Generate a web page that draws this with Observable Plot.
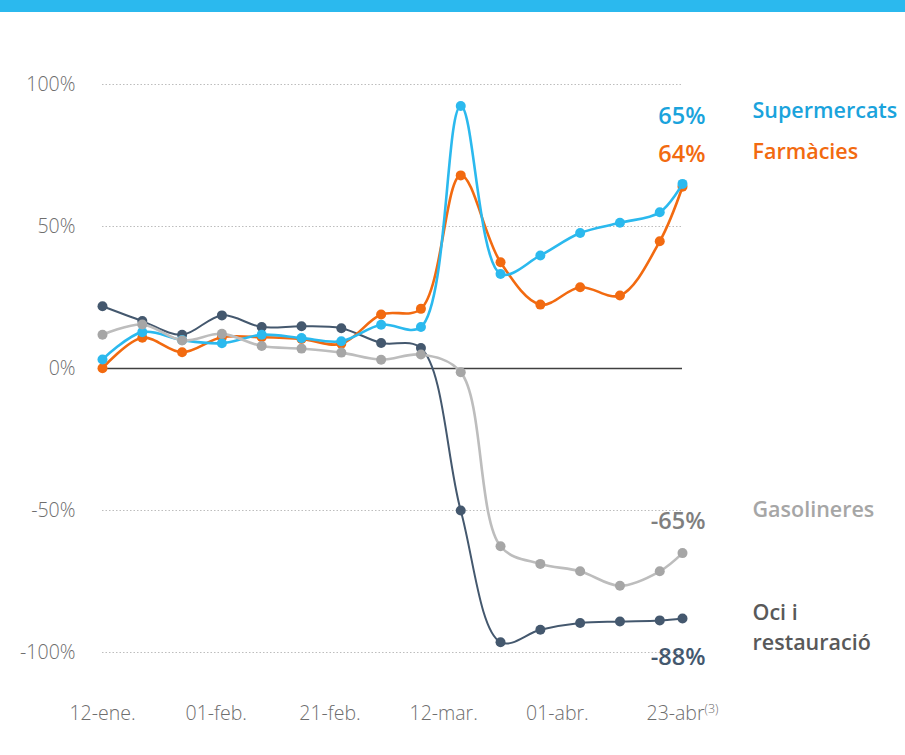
<!DOCTYPE html>
<html>
<head>
<meta charset="utf-8">
<script src="https://cdn.jsdelivr.net/npm/d3@7"></script>
<script src="https://cdn.jsdelivr.net/npm/@observablehq/plot@0.6"></script>
<style>
  body { margin: 0; background: #fff; font-family: "Open Sans", sans-serif; }
  #bar { height: 12px; background: #2BB9EE; }
</style>
</head>
<body>
<div id="bar"></div>
<div id="chart"></div>
<script>
// ---- data ----
const dates = ["2020-01-12","2020-01-19","2020-01-26","2020-02-02","2020-02-09","2020-02-16","2020-02-23","2020-03-01","2020-03-08","2020-03-15","2020-03-22","2020-03-29","2020-04-05","2020-04-12","2020-04-19","2020-04-23"];
const supermercats = [3.2, 12.8, 10, 8.9, 11.9, 10.7, 9.6, 15.4, 14.6, 92.4, 33.3, 39.8, 47.7, 51.3, 55.0, 65];
const farmacies    = [0.1, 10.8, 5.7, 11.0, 11.0, 10.4, 8.7, 19.0, 21.0, 68.0, 37.4, 22.5, 28.6, 25.7, 44.8, 64];
const gasolineres  = [11.9, 15.5, 9.9, 12.2, 7.9, 7.0, 5.6, 3.1, 4.9, -1.3, -62.6, -68.8, -71.4, -76.5, -71.4, -65];
const oci          = [21.9, 16.7, 11.9, 18.7, 14.6, 14.9, 14.2, 9.0, 7.2, -50, -96.4, -92, -89.6, -89.1, -88.7, -88];
const seriesNames  = ["Oci i restauració", "Farmàcies", "Supermercats", "Gasolineres"];
const tickDates    = ["2020-01-12","2020-02-01","2020-02-21","2020-03-12","2020-04-01","2020-04-23"];
const tickLabels   = ["12-ene.","01-feb.","21-feb.","12-mar.","01-abr.","23-abr"];
const yTicks       = [-100, -50, 0, 50, 100];
const endLabels    = ["-88%", "64%", "65%", "-65%"];

// ---- build ----
const parse = d3.utcParse("%Y-%m-%d");
const seriesValues = [oci, farmacies, supermercats, gasolineres];
const style = {
  "Oci i restauració": {line: "#44586E", dot: "#44586E", w: 2, text: "#595959", val: "#44586E"},
  "Farmàcies":        {line: "#F26A10", dot: "#F26A10", w: 2.6, text: "#F26A10", val: "#F26A10"},
  "Supermercats":     {line: "#2BB9EE", dot: "#2BB9EE", w: 2.6, text: "#1AA3DC", val: "#1AA3DC"},
  "Gasolineres":      {line: "#BDBDBD", dot: "#A6A6A6", w: 2.6, text: "#A6A6A6", val: "#7F7F7F"}
};
const rows = [];
seriesNames.forEach((s, i) => seriesValues[i].forEach((v, j) => rows.push({serie: s, date: parse(dates[j]), value: v})));
const ticksX = tickDates.map(parse);
const lastDate = parse(dates[dates.length - 1]);

const marks = [
  Plot.gridY(yTicks, {stroke: "#BDBDBD", strokeOpacity: 1, strokeDasharray: "1.5,2", strokeWidth: 1}),
  Plot.ruleY([0], {stroke: "#404040", strokeWidth: 1.5}),
];
seriesNames.forEach(s => {
  const d = rows.filter(r => r.serie === s);
  marks.push(Plot.line(d, {x: "date", y: "value", stroke: style[s].line, strokeWidth: style[s].w, curve: "catmull-rom"}));
  marks.push(Plot.dot(d, {x: "date", y: "value", fill: style[s].dot, r: 5}));
});
// annotation placements (data space)
const valueY = {"Supermercats": 88.7, "Farmàcies": 75.4, "Gasolineres": -53.9, "Oci i restauració": -101.8};
const nameY  = {"Supermercats": 91.5, "Farmàcies": 77.1, "Gasolineres": -48.9, "Oci i restauració": -90.5};
seriesNames.forEach((s, i) => {
  marks.push(Plot.text([endLabels[i]], {x: () => lastDate, y: () => valueY[s], text: d => d, textAnchor: "end", dx: 23, fill: style[s].val, fontSize: 23.5, fontWeight: 600}));
  marks.push(Plot.text([s === "Oci i restauració" ? "Oci i\nrestauració" : s], {x: () => lastDate, y: () => nameY[s], text: d => d, textAnchor: "start", dx: 70, fill: style[s].text, fontSize: 21.5, fontWeight: 600, lineHeight: 1.4}));
});
marks.push(Plot.axisY(yTicks, {tickSize: 0, tickPadding: 27, label: null, tickFormat: d => d + "%", fontSize: 19.5, fill: "#6E6E6E", fontWeight: 300}));
marks.push(Plot.axisX(ticksX, {tickSize: 0, tickPadding: 54, label: null, tickFormat: (d, i) => tickLabels[i], fontSize: 19.5, fill: "#6E6E6E", fontWeight: 300}));

const chart = Plot.plot({
  width: 905,
  height: 743,
  marginTop: 72,
  marginBottom: 103,
  marginLeft: 102,
  marginRight: 223,
  style: {fontFamily: "'Open Sans', sans-serif", background: "#fff", overflow: "visible"},
  x: {type: "utc", domain: [parse(dates[0]), lastDate]},
  y: {domain: [-100, 100]},
  marks
});
document.getElementById("chart").appendChild(chart);

// superscript "(3)" on the last tick label
d3.select(chart).selectAll("text").filter(function() { return this.textContent === "23-abr"; })
  .append("tspan").attr("font-size", 12.5).attr("dy", -7).text("(3)");
</script>
</body>
</html>
